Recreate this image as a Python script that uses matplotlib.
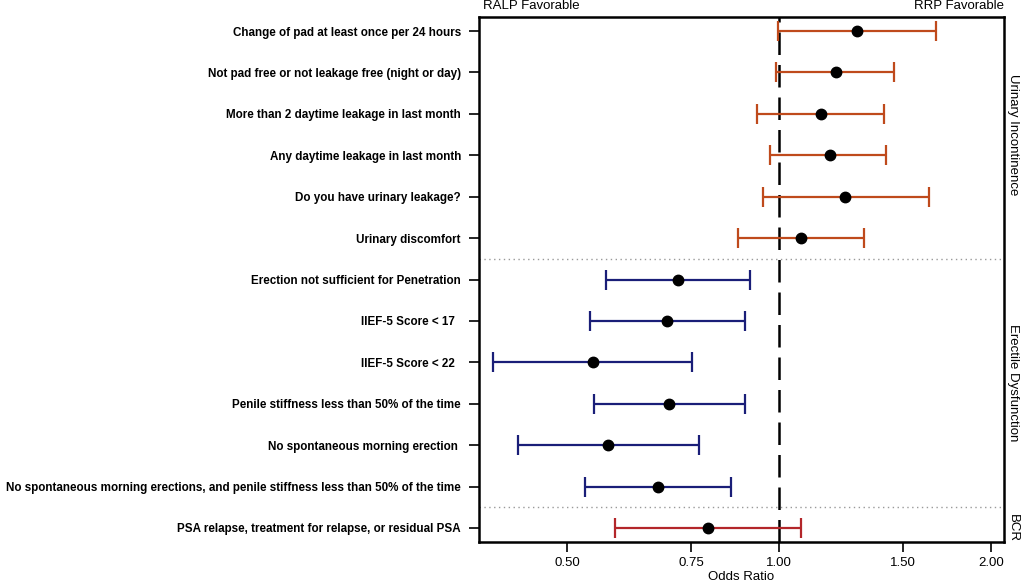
import matplotlib
matplotlib.use("Agg")
import matplotlib.pyplot as plt
from matplotlib.ticker import FixedLocator, NullLocator, FixedFormatter

# ---- data ----
labels = [
    "Change of pad at least once per 24 hours",
    "Not pad free or not leakage free (night or day)",
    "More than 2 daytime leakage in last month",
    "Any daytime leakage in last month",
    "Do you have urinary leakage?",
    "Urinary discomfort",
    "Erection not sufficient for Penetration",
    "IIEF-5 Score < 17  ",
    "IIEF-5 Score < 22  ",
    "Penile stiffness less than 50% of the time",
    "No spontaneous morning erection ",
    "No spontaneous morning erections, and penile stiffness less than 50% of the time",
    "PSA relapse, treatment for relapse, or residual PSA",
]
odds = [1.29, 1.205, 1.147, 1.18, 1.24, 1.075,
        0.719, 0.693, 0.545, 0.698, 0.572, 0.673,
        0.793]
lower = [0.995, 0.99, 0.93, 0.97, 0.95, 0.875,
         0.568, 0.539, 0.393, 0.546, 0.426, 0.530,
         0.585]
upper = [1.67, 1.456, 1.41, 1.42, 1.63, 1.32,
         0.91, 0.895, 0.753, 0.895, 0.770, 0.855,
         1.075]
groups = ["UI"] * 6 + ["ED"] * 6 + ["BCR"]
group_names = ["Urinary Incontinence", "Erectile Dysfunction", "BCR"]
group_keys = ["UI", "ED", "BCR"]
group_colors = {"UI": "#BF4A1C", "ED": "#1A1E78", "BCR": "#B3262A"}
xticks = [0.50, 0.75, 1.00, 1.50, 2.00]
xtick_labels = ["0.50", "0.75", "1.00", "1.50", "2.00"]

FONT = ["Liberation Sans", "DejaVu Sans"]
plt.rcParams["font.family"] = FONT

fig = plt.figure(figsize=(10.23, 5.84), dpi=100)
ax = fig.add_axes([479 / 1023, 1 - 542 / 584, 525 / 1023, 525 / 584])

n = len(labels)
ys = list(range(n))
for i in range(n):
    c = group_colors[groups[i]]
    ax.errorbar([odds[i]], [ys[i]],
                xerr=[[odds[i] - lower[i]], [upper[i] - odds[i]]],
                fmt="none", ecolor=c, elinewidth=1.6, capsize=7, capthick=1.6, zorder=3)
    ax.plot([odds[i]], [ys[i]], "o", color="black", markersize=7.5, zorder=4)

ax.axvline(1.0, color="black", lw=1.8, dashes=(9, 4), zorder=2)
for sep in [5.5, 11.5]:
    ax.axhline(sep, color="#999999", lw=1.0, ls=(0, (1, 2.5)), zorder=1)

ax.set_xscale("log")
ax.set_xlim(0.375, 2.086)
ax.set_ylim(n - 1 + 0.34, -0.34)
ax.xaxis.set_major_locator(FixedLocator(xticks))
ax.xaxis.set_major_formatter(FixedFormatter(xtick_labels))
ax.xaxis.set_minor_locator(NullLocator())
ax.set_yticks(ys)
ax.set_yticklabels(labels, fontsize=8.4, fontweight="bold")
ax.tick_params(axis="both", length=7, width=1.2, direction="out")
ax.tick_params(axis="x", labelsize=9.5, pad=4)
ax.tick_params(axis="y", pad=6)
for s in ax.spines.values():
    s.set_linewidth(1.8)

ax.set_xlabel("Odds Ratio", fontsize=9.5, labelpad=1.5)

ax.text(0.008, 1.01, "RALP Favorable", transform=ax.transAxes, ha="left", va="bottom", fontsize=9.5)
ax.text(1.0, 1.01, "RRP Favorable", transform=ax.transAxes, ha="right", va="bottom", fontsize=9.5)

# group labels on the right
for key, name in zip(group_keys, group_names):
    idx = [i for i in range(n) if groups[i] == key]
    yc = (min(idx) + max(idx)) / 2
    ax.text(1.006, yc, name, transform=ax.get_yaxis_transform(), rotation=270,
            ha="left", va="center", fontsize=9.5)

fig.savefig("out.png", dpi=100)
